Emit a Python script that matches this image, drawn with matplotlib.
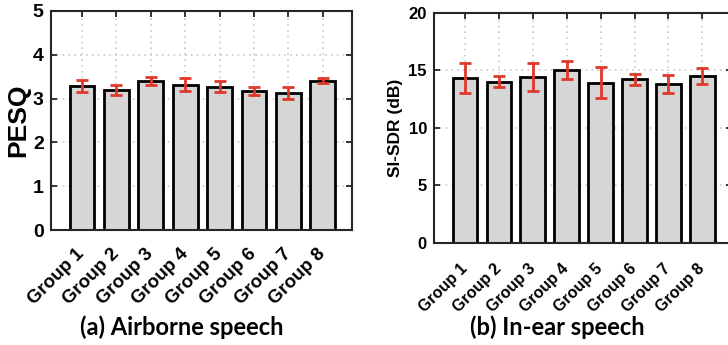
import matplotlib
matplotlib.use('Agg')
from matplotlib import pyplot as plt
from matplotlib.transforms import ScaledTranslation
import numpy as np

groups = ['Group 1', 'Group 2', 'Group 3', 'Group 4', 'Group 5', 'Group 6', 'Group 7', 'Group 8']
pesq = [3.29, 3.20, 3.40, 3.32, 3.27, 3.17, 3.13, 3.41]
pesq_err = [0.14, 0.12, 0.09, 0.14, 0.12, 0.09, 0.14, 0.05]
sisdr = [14.3, 14.0, 14.4, 15.0, 13.9, 14.2, 13.8, 14.5]
sisdr_err = [1.3, 0.5, 1.2, 0.8, 1.35, 0.45, 0.8, 0.7]

plt.rcParams['font.family'] = ['Liberation Sans', 'DejaVu Sans']
plt.rcParams['font.weight'] = 'bold'

fig = plt.figure(figsize=(7.28, 3.45), dpi=100)
ax1 = fig.add_axes([0.0696, 0.3333, 0.4143, 0.635])
ax2 = fig.add_axes([0.596, 0.2965, 0.409, 0.6667])

def panel(ax, vals, errs, ylim, yticks, ylabel, tsize, lsize, xsize, xpad, shift):
    x = np.arange(1, len(vals) + 1)
    ax.set_axisbelow(True)
    ax.bar(x, vals, width=0.72, color='#d6d6d6', edgecolor='black', linewidth=2, zorder=2)
    ax.errorbar(x, vals, yerr=errs, fmt='none', ecolor='#e0382b', elinewidth=2,
                capsize=4, capthick=2, zorder=3)
    ax.set_xlim(0.09, 8.86)
    ax.set_ylim(ylim)
    ax.set_yticks(yticks)
    ax.set_xticks(x)
    ax.set_xticklabels(groups, rotation=45, ha='right', va='center', rotation_mode='anchor',
                       fontsize=xsize, fontweight='bold')
    off = ScaledTranslation(shift / 100, 0, fig.dpi_scale_trans)
    for t in ax.get_xticklabels():
        t.set_transform(t.get_transform() + off)
    for t in ax.get_yticklabels():
        t.set_fontsize(tsize)
        t.set_fontweight('bold')
    ax.set_ylabel(ylabel, fontsize=lsize, fontweight='bold')
    ax.grid(True, linestyle=(0, (1, 2.5)), color='#c8c8c8', linewidth=1.2, zorder=0)
    ax.tick_params(direction='in', top=True, right=True, length=4, width=1.3,
                   color='#262626', pad=5)
    ax.tick_params(axis='x', pad=xpad)
    for s in ax.spines.values():
        s.set_linewidth(1.5)
        s.set_color('#262626')

panel(ax1, pesq, pesq_err, (0, 5), [0, 1, 2, 3, 4, 5], 'PESQ', 14, 19, 13.5, 15.5, 7)
panel(ax2, sisdr, sisdr_err, (0, 20), [0, 5, 10, 15, 20], 'SI-SDR (dB)', 12, 12.5, 11.5, 17, 6)
ax1.yaxis.labelpad = 2

fig.text(0.25, 0.028, '(a) Airborne speech', ha='center', va='baseline', fontsize=17,
         fontweight='bold', family=['Lato', 'DejaVu Sans'])
fig.text(0.765, 0.028, '(b) In-ear speech', ha='center', va='baseline', fontsize=17,
         fontweight='bold', family=['Lato', 'DejaVu Sans'])

fig.savefig('out.png', dpi=100)
